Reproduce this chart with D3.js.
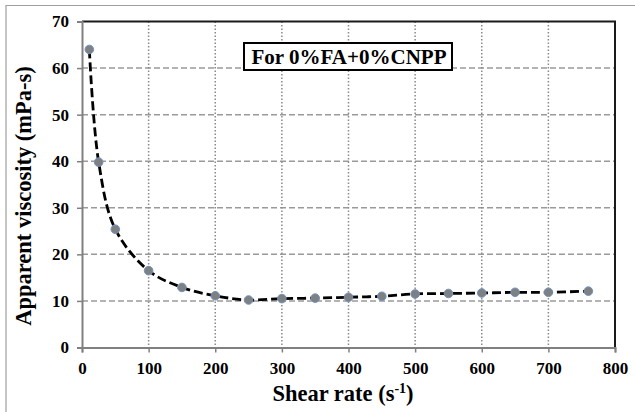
<!DOCTYPE html>
<html>
<head>
<meta charset="utf-8">
<script src="https://cdn.jsdelivr.net/npm/d3@7"></script>
<style>
  html, body { margin: 0; padding: 0; background: #fff; }
  svg { display: block; }
</style>
</head>
<body>
<svg id="chart" width="635" height="412"></svg>
<script>
// Shear rate (1/s) and apparent viscosity (mPa-s)
const shearRate = [11, 25, 50, 100, 150, 200, 250, 300, 350, 400, 450, 500, 550, 600, 650, 700, 760];
const viscosity = [64.0, 39.8, 25.4, 16.5, 12.9, 11.1, 10.2, 10.5, 10.6, 10.8, 11.0, 11.5, 11.6, 11.7, 11.85, 11.85, 12.1];
const xTicks = [0, 100, 200, 300, 400, 500, 600, 700, 800];
const yTicks = [0, 10, 20, 30, 40, 50, 60, 70];
const annotation = "For 0%FA+0%CNPP";

const SERIF = "Liberation Serif, DejaVu Serif, serif";

const svg = d3.select("#chart");
const W = 635, H = 412;
const m = { left: 82, right: 20, top: 21.5, bottom: 64.5 };

// outer frame
svg.append("path")
  .attr("d", `M6,${H} V5.5 H${W}`)
  .attr("fill", "none").attr("stroke", "#a0a0a0").attr("stroke-width", 1.2);

const x = d3.scaleLinear().domain([0, 800]).range([m.left, W - m.right]);
const y = d3.scaleLinear().domain([0, 70]).range([H - m.bottom, m.top]);

// grid: dashed horizontals, dotted verticals
svg.append("g").selectAll("line").data(yTicks.slice(1, -1)).join("line")
  .attr("x1", m.left).attr("x2", x(800))
  .attr("y1", d => y(d)).attr("y2", d => y(d))
  .attr("stroke", "#9a9a9a").attr("stroke-width", 1.5).attr("stroke-dasharray", "6,3");
svg.append("g").selectAll("line").data(xTicks.slice(1, -1)).join("line")
  .attr("x1", d => x(d)).attr("x2", d => x(d))
  .attr("y1", y(70)).attr("y2", y(0))
  .attr("stroke", "#8a8a8a").attr("stroke-width", 1.5).attr("stroke-dasharray", "1.5,2");

// top and right border
svg.append("path")
  .attr("d", `M${x(0)},${y(70)} H${x(800)} V${y(0)}`)
  .attr("fill", "none").attr("stroke", "#1a1a1a").attr("stroke-width", 2);

// axes
const xAxis = svg.append("g")
  .attr("transform", `translate(0,${y(0)})`)
  .call(d3.axisBottom(x).tickValues(xTicks).tickSize(5).tickPadding(9).tickFormat(d3.format("d")));
const yAxis = svg.append("g")
  .attr("transform", `translate(${x(0)},0)`)
  .call(d3.axisLeft(y).tickValues(yTicks).tickSize(5).tickPadding(8).tickFormat(d3.format("d")));
[xAxis, yAxis].forEach(g => {
  g.attr("font-family", SERIF).attr("font-size", 17).attr("font-weight", "bold");
  g.select(".domain").attr("stroke", "#808080").attr("stroke-width", 2);
  g.selectAll(".tick line").attr("stroke", "#808080").attr("stroke-width", 1.5);
  g.selectAll(".tick text").attr("fill", "#000");
});

// smoothed dashed fit through the measurements
const pts = shearRate.map((s, i) => [s, viscosity[i]]);
const line = d3.line().x(d => x(d[0])).y(d => y(d[1])).curve(d3.curveCatmullRom.alpha(0.5));
svg.append("path").datum(pts)
  .attr("d", line)
  .attr("fill", "none").attr("stroke", "#000").attr("stroke-width", 2.8)
  .attr("stroke-dasharray", "9,4");

// markers
svg.append("g").selectAll("circle").data(pts).join("circle")
  .attr("cx", d => x(d[0])).attr("cy", d => y(d[1])).attr("r", 4.3)
  .attr("fill", "#808080").attr("stroke", "#6d94c7").attr("stroke-width", 1);

// annotation box
const ann = svg.append("g");
ann.append("rect")
  .attr("x", 244).attr("y", 43).attr("width", 208).attr("height", 27)
  .attr("fill", "#fff").attr("stroke", "#000").attr("stroke-width", 2);
ann.append("text")
  .attr("x", 349).attr("y", 63.5).attr("text-anchor", "middle")
  .attr("font-family", SERIF).attr("font-weight", "bold").attr("font-size", 21)
  .text(annotation);

// axis titles
const xt = svg.append("text")
  .attr("x", 343).attr("y", 401).attr("text-anchor", "middle")
  .attr("font-family", SERIF).attr("font-weight", "bold").attr("font-size", 22.5);
xt.append("tspan").text("Shear rate (s");
xt.append("tspan").attr("dy", -8).attr("font-size", 14).text("-1");
xt.append("tspan").attr("dy", 8).text(")");

svg.append("text")
  .attr("transform", `translate(31,196) rotate(-90)`)
  .attr("text-anchor", "middle")
  .attr("font-family", SERIF).attr("font-weight", "bold").attr("font-size", 22.5)
  .text("Apparent viscosity (mPa-s)");
</script>
</body>
</html>
